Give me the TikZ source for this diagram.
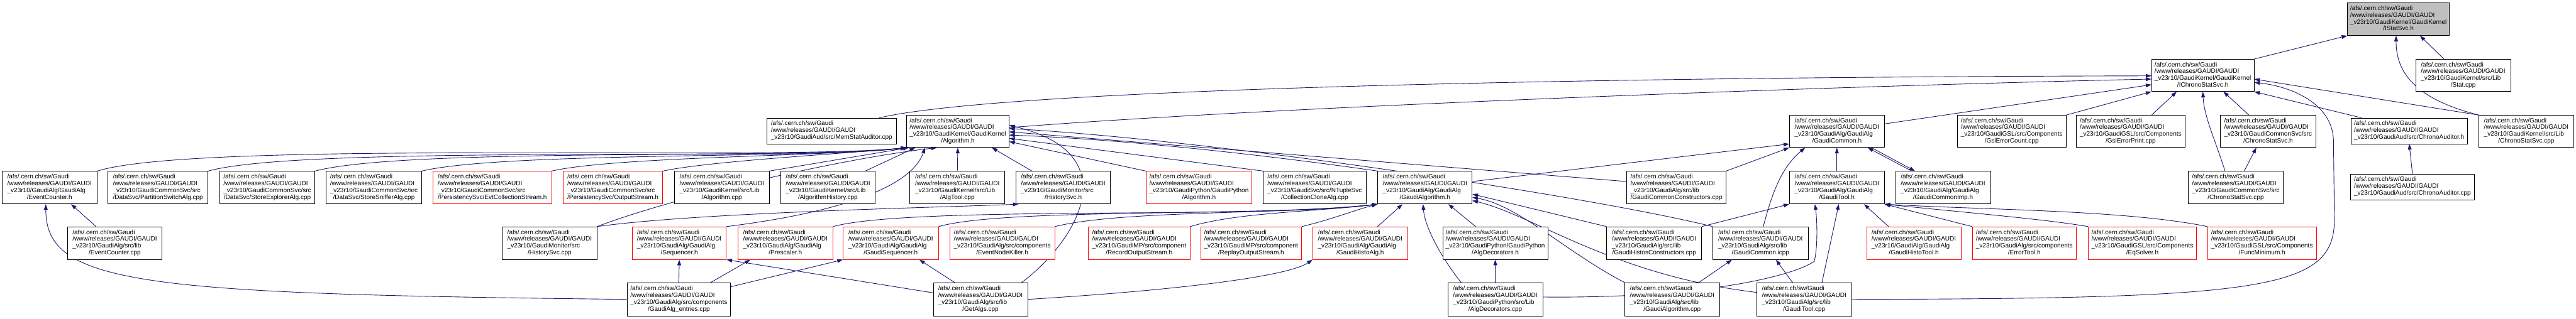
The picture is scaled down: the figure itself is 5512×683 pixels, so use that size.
\documentclass[tikz,border=0pt]{standalone}
\usepackage{fontspec}
\setmainfont{Liberation Sans}
\usetikzlibrary{arrows.meta}
\definecolor{edgeblue}{RGB}{25,25,112}
\definecolor{nodered}{RGB}{255,0,0}
\definecolor{topgray}{RGB}{191,191,191}
\pgfdeclarelayer{bglayer}
\pgfdeclarelayer{edgelayer}
\pgfsetlayers{bglayer,edgelayer,main}
\newcommand\pa{/afs/.cern.ch/sw/Gaudi\\/www/releases/GAUDI/GAUDI}
\newcommand\four[2]{\begin{tabular}{@{}l@{}}\pa\\\_v23r10/#1\\\multicolumn{1}{@{}c@{}}{#2}\end{tabular}}
\newcommand\three[1]{\begin{tabular}{@{}l@{}}\pa\\\_v23r10/#1\end{tabular}}
\newcommand\gn[7]{\node[gbox,#6,minimum width={(#3-#2)*1pt},minimum height={(#5-#4)*1pt}] (#1) at ({(#2+#3)/2},{(#4+#5)/2}) {#7};}
\tikzset{
  gbox/.style={draw=black, line width=1pt, fill=white, inner sep=0pt, text=black,
    font=\fontsize{13.5}{14.5}\selectfont},
  redbox/.style={draw=nodered},
  ed/.style={draw=edgeblue, line width=1.2pt, -{Triangle[length=12pt,width=8pt]}}
}
\begin{document}
\begin{tikzpicture}[x=1pt,y=-1pt]
\begin{pgfonlayer}{bglayer}
\fill[white] (0,0) rectangle (5512,683);
\end{pgfonlayer}
\path[use as bounding box] (0,0) rectangle (5512,683);
% row 1
\gn{istat}{5023}{5241}{6}{76}{fill=topgray}{\four{GaudiKernel/GaudiKernel}{/IStatSvc.h}}
% row 2
\gn{ichr}{4604}{4823}{127}{196}{}{\four{GaudiKernel/GaudiKernel}{/IChronoStatSvc.h}}
\gn{stat}{5169}{5372}{127}{196}{}{\four{GaudiKernel/src/Lib}{/Stat.cpp}}
% row 3
\gn{memstat}{1641}{1918}{253}{308}{}{\three{GaudiAud/src/MemStatAuditor.cpp}}
\gn{alg}{1940}{2159}{247}{316}{}{\four{GaudiKernel/GaudiKernel}{/Algorithm.h}}
\gn{gcom}{3829}{4032}{247}{316}{}{\four{GaudiAlg/GaudiAlg}{/GaudiCommon.h}}
\gn{gslc}{4188}{4421}{247}{316}{}{\four{GaudiGSL/src/Components}{/GslErrorCount.cpp}}
\gn{gslp}{4443}{4675}{247}{316}{}{\four{GaudiGSL/src/Components}{/GslErrorPrint.cpp}}
\gn{csvch}{4751}{4955}{247}{316}{}{\four{GaudiCommonSvc/src}{/ChronoStatSvc.h}}
\gn{caudh}{5031}{5279}{253}{308}{}{\three{GaudiAud/src/ChronoAuditor.h}}
\gn{cklib}{5304}{5507}{247}{316}{}{\four{GaudiKernel/src/Lib}{/ChronoStatSvc.cpp}}
% row 4
\gn{ech}{4}{208}{367}{437}{}{\four{GaudiAlg/GaudiAlg}{/EventCounter.h}}
\gn{psw}{231}{445}{367}{437}{}{\four{GaudiCommonSvc/src}{/DataSvc/PartitionSwitchAlg.cpp}}
\gn{sexp}{470}{674}{367}{437}{}{\four{GaudiCommonSvc/src}{/DataSvc/StoreExplorerAlg.cpp}}
\gn{ssnif}{698}{902}{367}{437}{}{\four{GaudiCommonSvc/src}{/DataSvc/StoreSnifferAlg.cpp}}
\gn{evtcs}{927}{1180}{367}{437}{redbox}{\four{GaudiCommonSvc/src}{/PersistencySvc/EvtCollectionStream.h}}
\gn{outs}{1205}{1418}{367}{437}{redbox}{\four{GaudiCommonSvc/src}{/PersistencySvc/OutputStream.h}}
\gn{algcpp}{1443}{1646}{367}{437}{}{\four{GaudiKernel/src/Lib}{/Algorithm.cpp}}
\gn{alghist}{1670}{1873}{367}{437}{}{\four{GaudiKernel/src/Lib}{/AlgorithmHistory.cpp}}
\gn{algtool}{1947}{2150}{367}{437}{}{\four{GaudiKernel/src/Lib}{/AlgTool.cpp}}
\gn{histh}{2174}{2376}{367}{437}{}{\four{GaudiMonitor/src}{/HistorySvc.h}}
\gn{gpalg}{2452}{2679}{367}{437}{redbox}{\four{GaudiPython/GaudiPython}{/Algorithm.h}}
\gn{ccalg}{2703}{2923}{367}{437}{}{\four{GaudiSvc/src/NTupleSvc}{/CollectionCloneAlg.cpp}}
\gn{gah}{2948}{3150}{367}{437}{}{\four{GaudiAlg/GaudiAlg}{/GaudiAlgorithm.h}}
\gn{gccons}{3481}{3693}{367}{437}{}{\four{GaudiAlg/src/lib}{/GaudiCommonConstructors.cpp}}
\gn{gth}{3829}{4032}{367}{437}{}{\four{GaudiAlg/GaudiAlg}{/GaudiTool.h}}
\gn{gcimp}{4056}{4259}{367}{437}{}{\four{GaudiAlg/GaudiAlg}{/GaudiCommonImp.h}}
\gn{csvccpp}{4682}{4886}{367}{437}{}{\four{GaudiCommonSvc/src}{/ChronoStatSvc.cpp}}
\gn{caudcpp}{5030}{5294}{373}{428}{}{\three{GaudiAud/src/ChronoAuditor.cpp}}
% row 5
\gn{eccpp}{145}{346}{486}{556}{}{\four{GaudiAlg/src/lib}{/EventCounter.cpp}}
\gn{histcpp}{1075}{1277}{486}{556}{}{\four{GaudiMonitor/src}{/HistorySvc.cpp}}
\gn{seq}{1353}{1554}{486}{556}{redbox}{\four{GaudiAlg/GaudiAlg}{/Sequencer.h}}
\gn{presc}{1579}{1782}{486}{556}{redbox}{\four{GaudiAlg/GaudiAlg}{/Prescaler.h}}
\gn{gseq}{1804}{2008}{486}{556}{redbox}{\four{GaudiAlg/GaudiAlg}{/GaudiSequencer.h}}
\gn{enk}{2032}{2257}{486}{556}{redbox}{\four{GaudiAlg/src/components}{/EventNodeKiller.h}}
\gn{rec}{2329}{2546}{486}{556}{redbox}{\four{GaudiMP/src/component}{/RecordOutputStream.h}}
\gn{rep}{2569}{2785}{486}{556}{redbox}{\four{GaudiMP/src/component}{/ReplayOutputStream.h}}
\gn{gha}{2809}{3012}{486}{556}{redbox}{\four{GaudiAlg/GaudiAlg}{/GaudiHistoAlg.h}}
\gn{adh}{3087}{3312}{486}{556}{}{\four{GaudiPython/GaudiPython}{/AlgDecorators.h}}
\gn{ghcons}{3438}{3641}{486}{556}{}{\four{GaudiAlg/src/lib}{/GaudiHistosConstructors.cpp}}
\gn{gcicpp}{3665}{3869}{486}{556}{}{\four{GaudiAlg/src/lib}{/GaudiCommon.icpp}}
\gn{ghtool}{3994}{4196}{486}{556}{redbox}{\four{GaudiAlg/GaudiAlg}{/GaudiHistoTool.h}}
\gn{errtool}{4220}{4443}{486}{556}{redbox}{\four{GaudiAlg/src/components}{/ErrorTool.h}}
\gn{eqs}{4468}{4700}{486}{556}{redbox}{\four{GaudiGSL/src/Components}{/EqSolver.h}}
\gn{fmin}{4724}{4956}{486}{556}{redbox}{\four{GaudiGSL/src/Components}{/FuncMinimum.h}}
% row 6
\gn{gaent}{1342}{1563}{606}{677}{}{\four{GaudiAlg/src/components}{/GaudiAlg\_entries.cpp}}
\gn{getalgs}{1997}{2199}{606}{677}{}{\four{GaudiAlg/src/lib}{/GetAlgs.cpp}}
\gn{adcpp}{3098}{3301}{606}{677}{}{\four{GaudiPython/src/Lib}{/AlgDecorators.cpp}}
\gn{gacpp}{3477}{3679}{606}{677}{}{\four{GaudiAlg/src/lib}{/GaudiAlgorithm.cpp}}
\gn{gtcpp}{3759}{3962}{606}{677}{}{\four{GaudiAlg/src/lib}{/GaudiTool.cpp}}

\begin{pgfonlayer}{edgelayer}
% into IStatSvc.h
\draw[ed] (ichr.north east) -- (istat.south west);
\draw[ed] ([xshift=-41pt]stat.north) -- ([xshift=46pt]istat.south);
\draw[ed] (cklib.north west) .. controls (5160,210) and (5127,150) .. ([xshift=-5pt]istat.south);
% into IChronoStatSvc.h
\draw[ed] ([xshift=-37pt]memstat.north east) .. controls (2150,190) and (3400,165) .. ([yshift=-1pt]ichr.west);
\draw[ed] ([yshift=8pt]alg.east) .. controls (2700,230) and (3900,185) .. ([yshift=-8pt]ichr.west);
\draw[ed] ([yshift=16pt]gcom.east) -- ([yshift=-20pt]ichr.west);
\draw[ed] (gslc.north east) -- (ichr.south west);
\draw[ed] ([xshift=45pt]gslp.north) -- ([xshift=-56pt]ichr.south);
\draw[ed] ([xshift=-23pt]csvccpp.north) .. controls (4740,300) and (4716,250) .. (ichr.south);
\draw[ed] ([xshift=-41pt]csvch.north) -- ([xshift=44pt]ichr.south);
\draw[ed] ([xshift=-102pt]caudh.north) -- (ichr.south east);
\draw[ed] (cklib.north west) -- ([yshift=-8pt]ichr.east);
\draw[ed] (gtcpp.east) .. controls (4850,640) and (4995,620) .. (4995,470) -- (4993,300) .. controls (4990,220) and (4900,185) .. ([yshift=-15pt]ichr.east);
% into Algorithm.h
\draw[ed] (ech.north east) .. controls (420,300) and (1650,345) .. (alg.south west);
\draw[ed] (psw.north east) .. controls (650,310) and (1700,345) .. (alg.south west);
\draw[ed] (sexp.north east) .. controls (870,315) and (1720,342) .. (alg.south west);
\draw[ed] (ssnif.north east) .. controls (1080,325) and (1750,340) .. (alg.south west);
\draw[ed] (evtcs.north east) .. controls (1320,335) and (1780,335) .. (alg.south west);
\draw[ed] (outs.north east) .. controls (1520,345) and (1800,330) .. (alg.south west);
\draw[ed] (algcpp.north east) -- ([xshift=5pt]alg.south west);
\draw[ed] ([xshift=80pt]alghist.north) -- ([xshift=-91pt]alg.south);
\draw[ed] (algtool.north) -- (alg.south);
\draw[ed] ([xshift=-67pt]histh.north) -- ([xshift=73pt]alg.south);
\draw[ed] (gpalg.north west) -- ([yshift=-22pt]alg.east);
\draw[ed] (ccalg.north west) -- ([yshift=-15pt]alg.east);
\draw[ed] (gah.north west) .. controls (2800,345) and (2450,300) .. ([yshift=-8pt]alg.east);
\draw[ed] ([yshift=13pt]gccons.west) -- ([yshift=-1pt]alg.east);
\draw[ed] (gcicpp.north west) .. controls (3400,420) and (2600,300) .. ([yshift=6pt]alg.east);
\draw[ed] ([xshift=88pt]getalgs.north) .. controls (2300,520) and (2420,330) .. ([yshift=13pt]alg.east);
\draw[ed] (seq.north east) .. controls (1800,455) and (1950,400) .. ([xshift=-70pt]alg.south);
\draw[ed] (histcpp.north east) .. controls (1450,420) and (1800,340) .. ([xshift=-45pt]alg.south);
\draw[ed] (histcpp.north east) .. controls (1500,455) and (2000,445) .. ([xshift=6pt]histh.south west);
% EventCounter.h
\draw[ed] ([xshift=-40pt]eccpp.north) -- ([xshift=46pt]ech.south);
\draw[ed] (gaent.west) .. controls (300,630) and (98,610) .. ([xshift=-8pt]ech.south);
% GaudiAlg_entries.cpp, GetAlgs.cpp
\draw[ed] (gaent.north) -- (seq.south);
\draw[ed] ([xshift=68pt]gaent.north) -- ([xshift=-75pt]presc.south);
\draw[ed] ([yshift=-9pt]gaent.north east) -- (gseq.south west);
\draw[ed] ([yshift=-22pt]getalgs.north west) -- (seq.south east);
\draw[ed] ([xshift=-55pt]getalgs.north) -- ([xshift=61pt]gseq.south);
\draw[ed] (getalgs.east) .. controls (2550,620) and (2760,590) .. (gha.south west);
% into GaudiAlgorithm.h
\draw[ed] (presc.north east) .. controls (1950,440) and (2700,470) .. (gah.south west);
\draw[ed] (gseq.north east) .. controls (2150,445) and (2700,465) .. (gah.south west);
\draw[ed] (enk.north east) .. controls (2400,450) and (2750,460) .. (gah.south west);
\draw[ed] (rec.north east) .. controls (2650,455) and (2800,455) .. (gah.south west);
\draw[ed] (rep.north east) .. controls (2850,470) and (2900,450) .. (gah.south west);
\draw[ed] ([xshift=37pt]gha.north) -- ([xshift=-48pt]gah.south);
\draw[ed] ([xshift=-42pt]adh.north) -- ([xshift=50pt]gah.south);
\draw[ed] ([xshift=-73pt]adcpp.north) .. controls (3075,540) and (3048,480) .. ([xshift=-4pt]gah.south);
\draw[ed] (adcpp.north) -- (adh.south);
\draw[ed] (gacpp.north west) .. controls (3350,540) and (3250,440) .. ([yshift=-21pt]gah.east);
\draw[ed] ([yshift=15pt]gtcpp.west) .. controls (3450,590) and (3280,460) .. ([yshift=-28pt]gah.east);
\draw[ed] (ghcons.north west) -- ([yshift=-14pt]gah.east);
% into GaudiCommon.h
\draw[ed] ([yshift=13pt]gah.east) -- ([yshift=8pt]gcom.south west);
\draw[ed] (gccons.north east) -- (gcom.south west);
\draw[ed] (gth.north) -- (gcom.south);
\draw[ed] ([xshift=-67pt]gcimp.north) -- ([xshift=66pt]gcom.south);
\draw[ed] ([xshift=74pt]gcom.south) -- ([xshift=-60pt]gcimp.north);
\draw[ed] ([xshift=6pt]gcicpp.north) .. controls (3790,420) and (3810,360) .. ([xshift=-68pt]gcom.south);
% into GaudiTool.h
\draw[ed] (ghcons.north east) -- (gth.south west);
\draw[ed] ([yshift=5pt]adcpp.east) .. controls (3650,640) and (3840,590) .. (3882,560) .. controls (3890,530) and (3888,470) .. ([xshift=-47pt]gth.south);
\draw[ed] ([xshift=38pt]gtcpp.north) -- ([xshift=4pt]gth.south);
\draw[ed] ([xshift=-54pt]ghtool.north) -- ([xshift=58pt]gth.south);
\draw[ed] (errtool.north west) -- (gth.south east);
\draw[ed] (eqs.north west) .. controls (4380,470) and (4200,455) .. (gth.south east);
\draw[ed] (fmin.north west) .. controls (4550,450) and (4250,450) .. (gth.south east);
% into GaudiCommon.icpp
\draw[ed] ([xshift=57pt]gacpp.north) -- ([xshift=-61pt]gcicpp.south);
\draw[ed] ([xshift=-25pt]gtcpp.north) -- ([xshift=33pt]gcicpp.south);
% others
\draw[ed] (caudcpp.north) -- (caudh.south);
\draw[ed] ([xshift=18pt]csvccpp.north) -- ([xshift=-25pt]csvch.south);
\end{pgfonlayer}
\end{tikzpicture}
\end{document}
